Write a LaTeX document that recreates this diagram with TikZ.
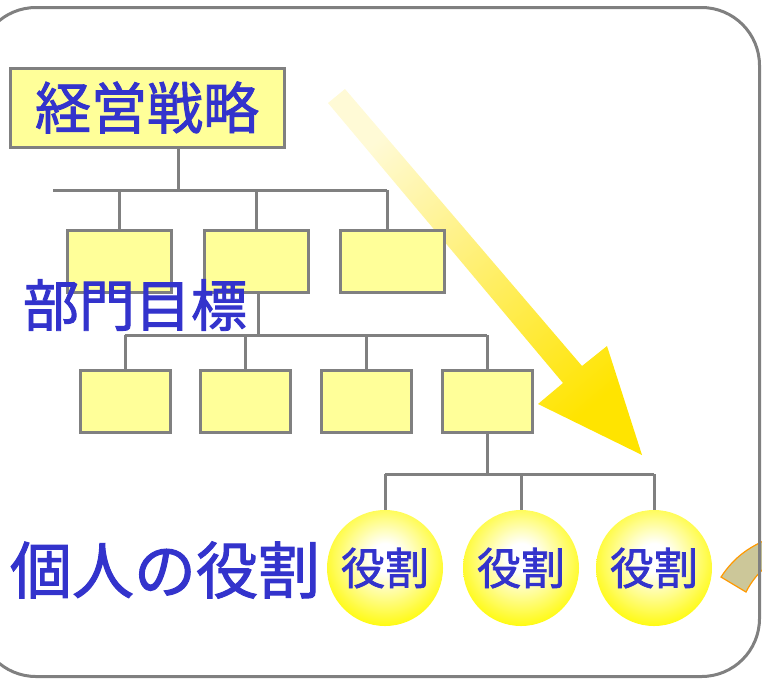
\documentclass[tikz,border=0pt]{standalone}
\usepackage{fontspec}
\newfontfamily\jp[FakeBold=1.6]{Noto Sans CJK JP}
\definecolor{txtblue}{RGB}{51,51,204}
\definecolor{boxfill}{RGB}{255,255,153}
\definecolor{linegray}{RGB}{128,128,128}
\definecolor{tanfill}{RGB}{204,199,153}
\definecolor{orangeline}{RGB}{255,153,0}
\definecolor{arrowlight}{RGB}{255,250,214}
\definecolor{arrowdark}{RGB}{255,228,0}
\definecolor{ballyellow}{RGB}{255,250,0}
\pgfdeclareradialshading{ballshade}{\pgfpoint{0bp}{5bp}}{color(0bp)=(white);color(6bp)=(white);color(30bp)=(ballyellow);color(80bp)=(ballyellow)}
\tikzset{
  conn/.style={draw=linegray, line width=3pt},
  orgbox/.style={draw=linegray, line width=3pt, fill=boxfill, inner sep=0pt, minimum height=62pt},
  ball/.style={circle, shade, shading=ballshade, minimum size=116pt, inner sep=0pt,
               text=txtblue, font=\jp\fontsize{44pt}{48pt}\selectfont},
  bigtext/.style={text=txtblue, inner sep=0pt}
}
\begin{document}
\begin{tikzpicture}[x=1pt,y=-1pt]
\useasboundingbox (0,0) rectangle (762,678);

% big diagonal arrow
\shade[top color=arrowlight, bottom color=arrowdark, shading angle=40]
  (345,89) -- (582,366) -- (607,346) -- (642,455) -- (538,404) -- (563,383) -- (328,103) -- cycle;

% partial shape at right edge
\filldraw[fill=tanfill, draw=orangeline, line width=1.2pt]
  (721,577) .. controls (735,556) and (750,546) .. (775,536) -- (775,560)
  .. controls (762,568) and (752,580) .. (746,592) -- cycle;

% frame
\draw[linegray, line width=3pt, rounded corners=58pt] (-22,7.5) rectangle (759.5,676.5);

% top box
\node[orgbox, minimum width=274pt, minimum height=79pt, bigtext, font=\jp\fontsize{56pt}{60pt}\selectfont]
  (top) at (147,107.5) {経営戦略};

% level 2 boxes
\node[orgbox, minimum width=104pt] (b21) at (119,261) {};
\node[orgbox, minimum width=104pt] (b22) at (256,261) {};
\node[orgbox, minimum width=104pt] (b23) at (392.5,261) {};

% level 3 boxes
\node[orgbox, minimum width=90pt] (b31) at (125,401) {};
\node[orgbox, minimum width=90pt] (b32) at (245,401) {};
\node[orgbox, minimum width=90pt] (b33) at (366,401) {};
\node[orgbox, minimum width=90pt] (b34) at (487,401) {};

% role circles
\node[ball] (r1) at (385,568) {役割};
\node[ball] (r2) at (521,568) {役割};
\node[ball] (r3) at (654,568) {役割};

% connectors level 1
\coordinate (s1) at (178,190);
\coordinate (b1l) at (53,190);
\coordinate (b1r) at (387,190);
\draw[conn] (s1 |- top.south) -- (s1);
\draw[conn] (b1l) -- (b1r);
\draw[conn] (b21.north |- b1l) -- (b21.north);
\draw[conn] (b22.north |- b1l) -- (b22.north);
\draw[conn] (b1r) -- (b1r |- b23.north);

% connectors level 2
\coordinate (b2l) at (125,335);
\coordinate (b2r) at (487,335);
\coordinate (s2) at (258,335);
\draw[conn] (s2 |- b22.south) -- (s2);
\draw[conn] (b2l) -- (b2r);
\draw[conn] (b31.north |- b2l) -- (b31.north);
\draw[conn] (b32.north |- b2l) -- (b32.north);
\draw[conn] (b33.north |- b2l) -- (b33.north);
\draw[conn] (b34.north |- b2l) -- (b34.north);

% connectors level 3
\coordinate (b3l) at (385,474);
\coordinate (b3r) at (654,474);
\draw[conn] (b34.south) -- (b34.south |- b3l);
\draw[conn] (b3l) -- (b3r);
\draw[conn] (r1.north |- b3l) -- (r1.north);
\draw[conn] (r2.north |- b3l) -- (r2.north);
\draw[conn] (r3.north |- b3l) -- (r3.north);

% labels
\node[bigtext, font=\jp\fontsize{56pt}{60pt}\selectfont] (dept) at (135,305) {部門目標};
\node[bigtext, font=\jp\fontsize{62pt}{66pt}\selectfont] (indiv) at (165,570) {個人の役割};
\end{tikzpicture}
\end{document}
